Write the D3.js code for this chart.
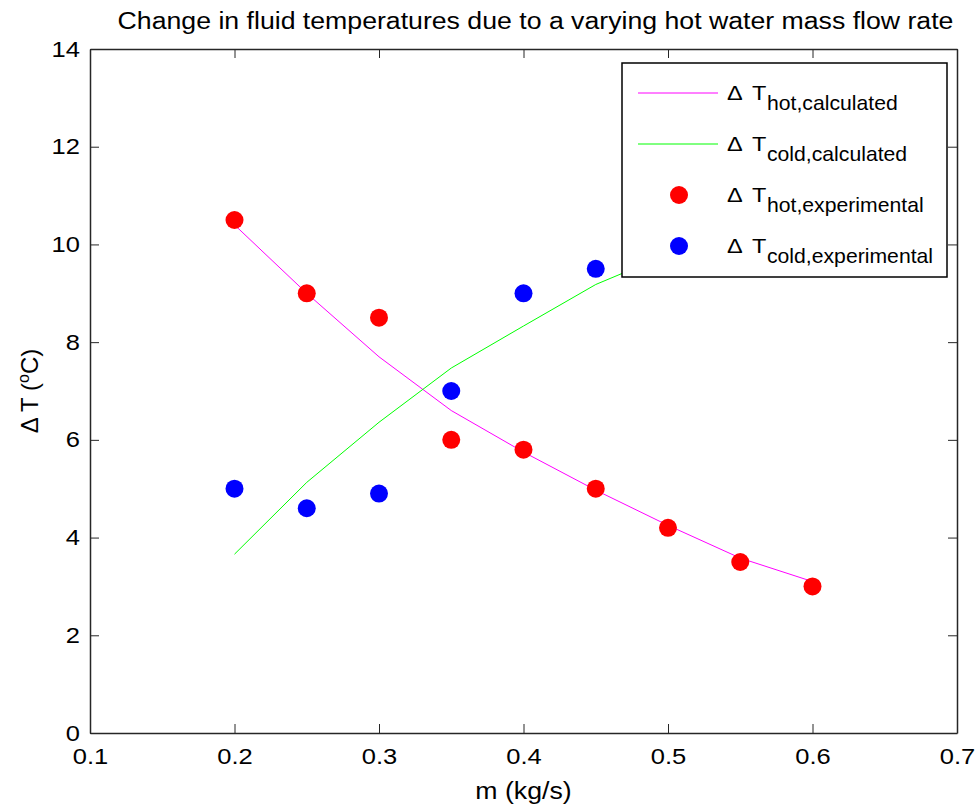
<!DOCTYPE html>
<html>
<head>
<meta charset="utf-8">
<script src="https://cdn.jsdelivr.net/npm/d3@7"></script>
<style>
  body { margin: 0; background: #fff; }
  svg { display: block; font-family: "Liberation Sans", Arial, sans-serif; }
  .tick-label { font-size: 22px; fill: #000; }
</style>
</head>
<body>
<svg></svg>
<script>
const W = 979, H = 807;
const margin = { top: 49, right: 22, bottom: 74, left: 90 };
const width = W - margin.left - margin.right;
const height = H - margin.top - margin.bottom;

// data
const massFlow = [0.2, 0.25, 0.3, 0.35, 0.4, 0.45, 0.5, 0.55, 0.6];
const hotCalc = [10.4, 9.0, 7.7, 6.6, 5.75, 4.97, 4.25, 3.58, 3.1];
const coldCalc = [3.66, 5.13, 6.36, 7.47, 8.33, 9.18, 9.8, 10.3, 10.7];
const hotExp = [10.5, 9.0, 8.5, 6.0, 5.8, 5.0, 4.2, 3.5, 3.0];
const coldExpX = [0.2, 0.25, 0.3, 0.35, 0.4, 0.45];
const coldExp = [5.0, 4.6, 4.9, 7.0, 9.0, 9.5];
const xTicks = [0.1, 0.2, 0.3, 0.4, 0.5, 0.6, 0.7];
const yTicks = [0, 2, 4, 6, 8, 10, 12, 14];

const svg = d3.select("svg").attr("width", W).attr("height", H);
const g = svg.append("g").attr("transform", `translate(${margin.left},${margin.top})`);

const x = d3.scaleLinear().domain([0.1, 0.7]).range([0, width]);
const y = d3.scaleLinear().domain([0, 14]).range([height, 0]);

const tickLen = 9;
const axisColor = "#262626";
const sx = 1.16; // the figure's lettering is a bit wide

// widen text horizontally around its own anchor point
function stretch(sel, k) {
  sel.each(function () {
    const t = d3.select(this);
    const tx = +t.attr("x") || 0, ty = +t.attr("y") || 0;
    t.attr("x", 0).attr("y", 0).attr("transform", `translate(${tx},${ty}) scale(${k},1)`);
  });
}

// data lines
const line = d3.line().x(d => x(d[0])).y(d => y(d[1]));
g.append("path")
  .attr("d", line(d3.zip(massFlow, hotCalc)))
  .attr("fill", "none").attr("stroke", "#ff00ff").attr("stroke-width", 1);
g.append("path")
  .attr("d", line(d3.zip(massFlow, coldCalc)))
  .attr("fill", "none").attr("stroke", "#00ff00").attr("stroke-width", 1);

g.selectAll(".hot-dot").data(d3.zip(massFlow, hotExp)).join("circle")
  .attr("class", "hot-dot")
  .attr("cx", d => x(d[0])).attr("cy", d => y(d[1])).attr("r", 9)
  .attr("fill", "#ff0000");
g.selectAll(".cold-dot").data(d3.zip(coldExpX, coldExp)).join("circle")
  .attr("class", "cold-dot")
  .attr("cx", d => x(d[0])).attr("cy", d => y(d[1])).attr("r", 9)
  .attr("fill", "#0000ff");

// axes box with inward ticks on all sides
const bottomAxis = g.append("g").attr("transform", `translate(0,${height})`)
  .call(d3.axisBottom(x).tickValues(xTicks).tickSizeInner(-tickLen).tickSizeOuter(0).tickPadding(tickLen + 6).tickFormat(d3.format(".1f")));
const leftAxis = g.append("g")
  .call(d3.axisLeft(y).tickValues(yTicks).tickSizeInner(-tickLen).tickSizeOuter(0).tickPadding(tickLen + 1));
const topAxis = g.append("g")
  .call(d3.axisTop(x).tickValues(xTicks).tickSizeInner(-tickLen).tickSizeOuter(0).tickFormat(""));
const rightAxis = g.append("g").attr("transform", `translate(${width},0)`)
  .call(d3.axisRight(y).tickValues(yTicks).tickSizeInner(-tickLen).tickSizeOuter(0).tickFormat(""));

[bottomAxis, leftAxis, topAxis, rightAxis].forEach(a => {
  a.select(".domain").attr("stroke", axisColor).attr("stroke-width", 1.5);
  a.selectAll(".tick line").attr("stroke", axisColor);
  a.selectAll(".tick text").attr("class", "tick-label").attr("font-family", null).attr("font-size", null);
});
bottomAxis.selectAll(".tick text").attr("dy", "0.71em");
stretch(bottomAxis.selectAll(".tick text"), sx);
stretch(leftAxis.selectAll(".tick text"), sx);

// titles
const title = svg.append("text")
  .attr("x", margin.left + width / 2 + 12).attr("y", 29)
  .attr("text-anchor", "middle").attr("font-size", 23)
  .text("Change in fluid temperatures due to a varying hot water mass flow rate");
stretch(title, sx);

const xLab = svg.append("text")
  .attr("x", margin.left + width / 2).attr("y", 799)
  .attr("text-anchor", "middle").attr("font-size", 23)
  .text("m (kg/s)");
stretch(xLab, sx);

const yLab = svg.append("text")
  .attr("transform", `translate(38,${margin.top + height / 2}) rotate(-90)`)
  .attr("text-anchor", "middle").attr("font-size", 24);
yLab.append("tspan").text("\u0394 T (");
yLab.append("tspan").attr("font-size", 16).attr("dy", -9).text("o");
yLab.append("tspan").attr("dy", 9).text("C)");

// legend
const legendItems = [
  { sub: "hot,calculated", kind: "line", color: "#ff00ff" },
  { sub: "cold,calculated", kind: "line", color: "#00ff00" },
  { sub: "hot,experimental", kind: "dot", color: "#ff0000" },
  { sub: "cold,experimental", kind: "dot", color: "#0000ff" }
];
const lg = svg.append("g").attr("transform", "translate(622,63)");
lg.append("rect")
  .attr("width", 325).attr("height", 214)
  .attr("fill", "#fff").attr("stroke", "#000").attr("stroke-width", 1.5);
const rows = lg.selectAll(".legend-row").data(legendItems).join("g")
  .attr("class", "legend-row")
  .attr("transform", (d, i) => `translate(0,${30 + i * 51})`);
rows.filter(d => d.kind === "line").append("line")
  .attr("x1", 16).attr("x2", 96)
  .attr("stroke", d => d.color).attr("stroke-width", 1);
rows.filter(d => d.kind === "dot").append("circle")
  .attr("cx", 57).attr("r", 9).attr("fill", d => d.color);
const deltaLab = rows.append("text").attr("x", 105).attr("y", 7).attr("font-size", 21)
  .text("\u0394");
stretch(deltaLab, 1.12);
const tLab = rows.append("text").attr("x", 130).attr("y", 7).attr("font-size", 21)
  .text("T");
stretch(tLab, 1.12);
const subLab = rows.append("text").attr("x", 145).attr("y", 17).attr("font-size", 20)
  .text(d => d.sub);
stretch(subLab, 1.06);
</script>
</body>
</html>
